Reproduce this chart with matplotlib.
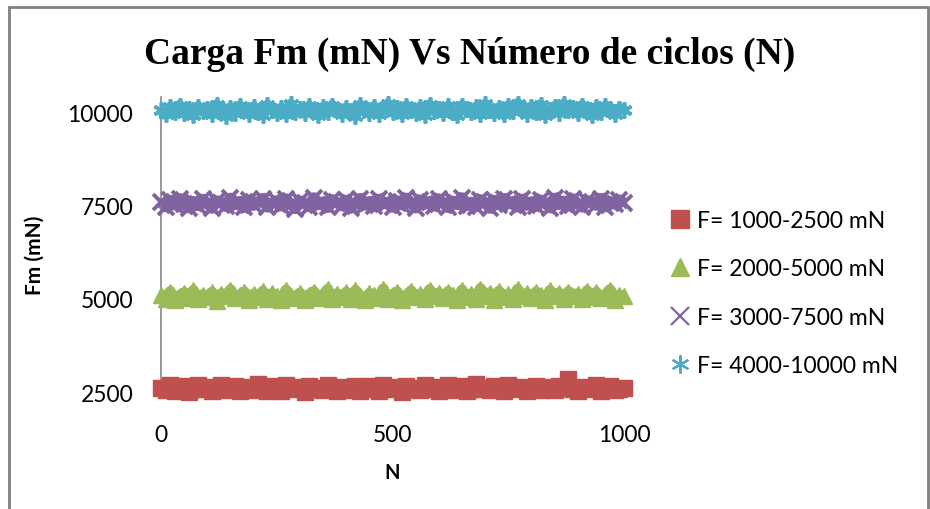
import matplotlib

matplotlib.use("Agg")
import matplotlib.pyplot as plt
from matplotlib.lines import Line2D
from matplotlib.patches import Rectangle

# cycle numbers (sampled every 10 cycles)
cycles = list(range(0, 1001, 10))

# Fm (mN) for each load range
fm_1000_2500 = [
    2620, 2560, 2680, 2540, 2600, 2650, 2510, 2590, 2700, 2570,
    2630, 2520, 2610, 2690, 2550, 2580, 2660, 2530, 2600, 2640,
    2560, 2710, 2590, 2520, 2650, 2600, 2540, 2680, 2610, 2570,
    2630, 2500, 2660, 2590, 2620, 2550, 2700, 2580, 2530, 2640,
    2600, 2560, 2670, 2520, 2610, 2650, 2580, 2540, 2690, 2600,
    2570, 2630, 2510, 2660, 2590, 2620, 2550, 2700, 2580, 2640,
    2530, 2610, 2680, 2560, 2600, 2650, 2520, 2590, 2710, 2570,
    2620, 2550, 2660, 2600, 2540, 2680, 2610, 2580, 2640, 2520,
    2600, 2670, 2560, 2630, 2590, 2550, 2660, 2610, 2860, 2580,
    2540, 2640, 2600, 2570, 2680, 2520, 2610, 2650, 2560, 2590,
    2600,
]
fm_2000_5000 = [
    5120, 5010, 5200, 4960, 5090, 5170, 5040, 5230, 4990, 5110,
    5060, 5180, 4950, 5140, 5080, 5250, 5020, 5100, 5190, 4970,
    5130, 5050, 5210, 5000, 5150, 5070, 4980, 5240, 5090, 5030,
    5160, 4960, 5120, 5200, 5040, 5100, 5260, 4990, 5140, 5060,
    5180, 5010, 5230, 5080, 4970, 5150, 5110, 5040, 5270, 5000,
    5120, 5190, 4960, 5090, 5220, 5050, 5130, 4990, 5250, 5070,
    5160, 5020, 5200, 5100, 4980, 5240, 5060, 5140, 5010, 5280,
    5090, 5170, 4970, 5210, 5050, 5130, 5000, 5260, 5080, 5150,
    5030, 5190, 5110, 4960, 5230, 5070, 5160, 5010, 5200, 5090,
    5140, 4990, 5220, 5060, 5180, 5020, 5120, 5250, 4980, 5100,
    5080,
]
fm_3000_7500 = [
    7600, 7480, 7650, 7530, 7700, 7560, 7450, 7620, 7510, 7680,
    7570, 7440, 7640, 7590, 7490, 7710, 7540, 7620, 7460, 7660,
    7520, 7600, 7700, 7470, 7580, 7640, 7500, 7690, 7550, 7430,
    7630, 7570, 7480, 7720, 7540, 7610, 7460, 7670, 7590, 7510,
    7650, 7440, 7580, 7700, 7520, 7620, 7490, 7680, 7560, 7600,
    7470, 7640, 7530, 7710, 7580, 7450, 7660, 7550, 7620, 7500,
    7690, 7570, 7460, 7630, 7540, 7720, 7510, 7600, 7480, 7670,
    7590, 7440, 7650, 7530, 7700, 7560, 7620, 7470, 7680, 7520,
    7610, 7490, 7660, 7580, 7450, 7710, 7540, 7630, 7500, 7690,
    7560, 7470, 7640, 7600, 7520, 7700, 7480, 7620, 7550, 7660,
    7580,
]
fm_4000_10000 = [
    10080, 9960, 10150, 10020, 10200, 9990, 10110, 9940, 10170, 10050,
    10120, 9970, 10220, 10060, 9930, 10140, 10010, 10190, 10070, 9980,
    10160, 10030, 9950, 10210, 10090, 10000, 10130, 9960, 10230, 10040,
    10100, 9990, 10180, 10060, 9940, 10150, 10020, 10200, 10080, 9970,
    10140, 10050, 9930, 10210, 10110, 10000, 10170, 9980, 10090, 10240,
    10030, 10130, 9960, 10190, 10070, 10010, 10160, 9950, 10220, 10060,
    10120, 9990, 10180, 10040, 9940, 10200, 10100, 10020, 10150, 9970,
    10230, 10080, 10000, 10140, 9960, 10190, 10050, 10250, 10110, 9980,
    10160, 10030, 10220, 9950, 10090, 10170, 10010, 10240, 10070, 10130,
    9990, 10200, 10060, 9940, 10150, 10020, 10180, 10100, 9970, 10120,
    10080,
]

series_labels = [
    "F= 1000-2500 mN",
    "F= 2000-5000 mN",
    "F= 3000-7500 mN",
    "F= 4000-10000 mN",
]
y_ticks = [2500, 5000, 7500, 10000]
x_ticks = [0, 500, 1000]

RED = "#c0504d"
GREEN = "#9bbb59"
PURPLE = "#8064a2"
CYAN = "#4bacc6"
AXIS_GREY = "#868686"

W, H = 930, 510
fig = plt.figure(figsize=(W / 100, H / 100), dpi=100, facecolor="white")
ax = fig.add_axes([161 / W, 1 - 393 / H, 463 / W, (393 - 98) / H])

series = [
    (fm_1000_2500, RED, "s", 11.0, 1.0, 12.5),
    (fm_2000_5000, GREEN, "^", 12.0, 1.0, 12.5),
    (fm_3000_7500, PURPLE, "x", 11.0, 2.8, 13.5),
    (fm_4000_10000, CYAN, (6, 2, 0), 11.5, 2.6, 13.0),
]
handles = []
for (values, colour, marker, size, edge, legend_size), label in zip(series, series_labels):
    # the 1000 overlapping points in the original read as a solid band
    ax.plot(cycles, values, color=colour, lw=8, solid_joinstyle="round",
            solid_capstyle="butt", clip_on=False, zorder=2)
    ax.plot(cycles, values, ls="none", marker=marker, ms=size, mew=edge,
            color=colour, mec=colour, clip_on=False, zorder=3)
    handles.append(Line2D([], [], ls="none", marker=marker, ms=legend_size,
                          mew=1.6 if edge > 1 else 1.0, color=colour,
                          mec=colour, label=label))

ax.set_xlim(0, 1000)
ax.set_ylim(2500, 10430)
ax.set_xticks(x_ticks)
ax.set_yticks(y_ticks)

tick_font = {"family": "Lato", "size": 16.5}
ax.set_xticklabels([str(t) for t in x_ticks], fontdict=tick_font)
ax.set_yticklabels([str(t) for t in y_ticks], fontdict=tick_font)
ax.tick_params(axis="both", length=0)
ax.tick_params(axis="x", pad=23)
ax.tick_params(axis="y", pad=20)

for side in ("top", "right"):
    ax.spines[side].set_visible(False)
ax.spines["left"].set_color(AXIS_GREY)
ax.spines["left"].set_linewidth(1.2)
ax.spines["bottom"].set_color(AXIS_GREY)
ax.spines["bottom"].set_linewidth(1.2)
ax.set_facecolor("none")

ax.set_xlabel("N", fontfamily="Lato", fontweight="bold", fontsize=14.5, labelpad=12)
ax.set_ylabel("Fm (mN)", fontfamily="Lato", fontweight="bold", fontsize=15)
ax.yaxis.set_label_coords((45 - 161) / 463, (393 - 255) / 295)

fig.text(470 / W, 1 - 54 / H, "Carga Fm (mN) Vs Número de ciclos (N)",
         ha="center", va="center", fontfamily="Liberation Serif",
         fontweight="bold", fontsize=27)

fig.legend(handles=handles, loc="upper left",
           bbox_to_anchor=(671 / W, 1 - 211 / H), frameon=False,
           prop={"family": "Lato", "size": 16.5}, handlelength=0.8,
           handletextpad=0.35, labelspacing=1.2, borderpad=0,
           borderaxespad=0)

# chart-area border (bottom edge falls outside the image)
fig.patches.append(Rectangle((9 / W, -0.05), (928 - 9) / W, 1.05 - 8 / H,
                             transform=fig.transFigure, fill=False,
                             edgecolor="#808080", linewidth=2))

fig.savefig("out.png", dpi=100, facecolor="white")
